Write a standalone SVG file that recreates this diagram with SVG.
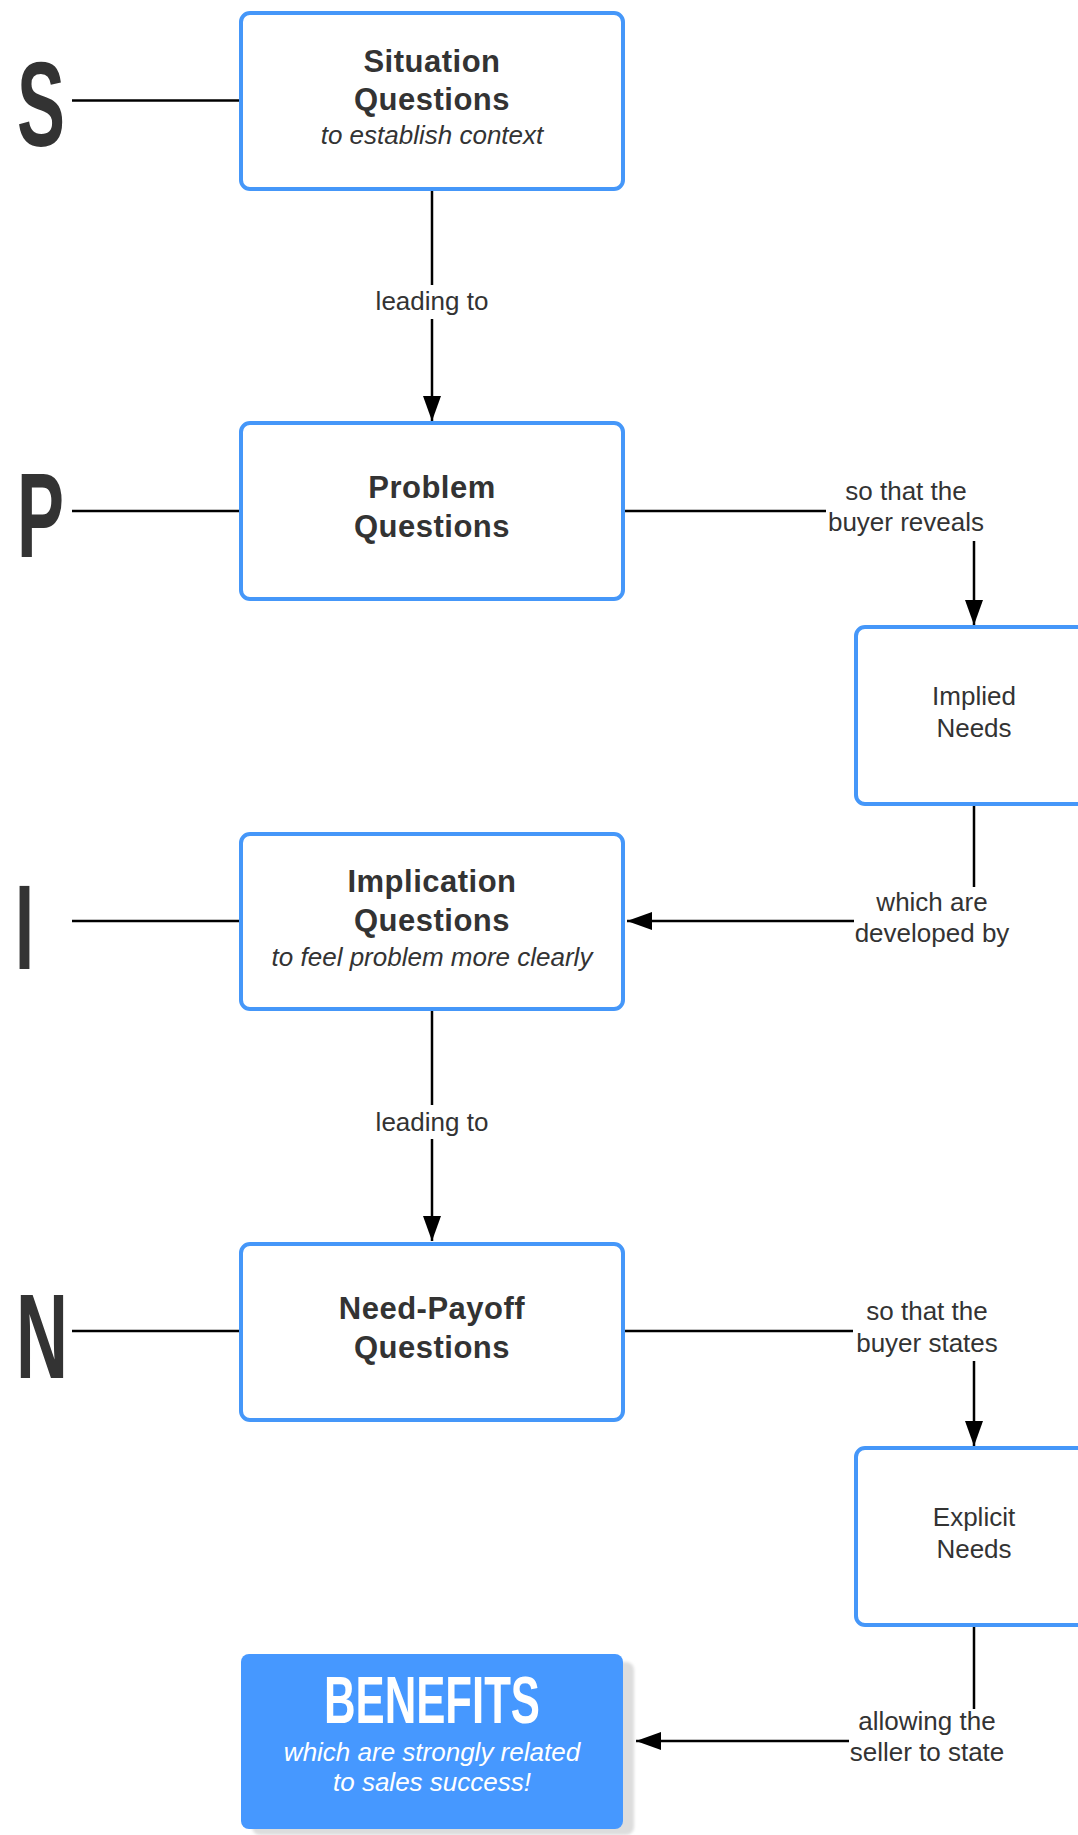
<svg xmlns="http://www.w3.org/2000/svg" width="1078" height="1835" viewBox="0 0 1078 1835">
<style>
.box{fill:#fff;stroke:#4597F9;stroke-width:4}
.title{font-family:"Liberation Sans",Arial,sans-serif;font-weight:bold;font-size:31px;letter-spacing:0.5px;fill:#333;text-anchor:middle}
.sub{font-family:"Liberation Sans",Arial,sans-serif;font-style:italic;font-size:26px;fill:#333;text-anchor:middle}
.txt{font-family:"Liberation Sans",Arial,sans-serif;font-size:26px;fill:#333;text-anchor:middle}
.big{font-family:"Liberation Sans",Arial,sans-serif;font-weight:bold;font-size:120px;fill:#333}
.conn{fill:none;stroke:#000;stroke-width:2.5}
.lbl{fill:#fff}
</style>
<defs>
<marker id="arr" markerUnits="userSpaceOnUse" markerWidth="26" markerHeight="18" refX="25" refY="9" orient="auto">
<path d="M0,0 L25,9 L0,18 z" fill="#000"/>
</marker>
<filter id="sh" x="-10%" y="-10%" width="120%" height="120%"><feGaussianBlur stdDeviation="1.5"/></filter>
</defs>
<rect width="1078" height="1835" fill="#fff"/>

<g id="connectors">
<line class="conn" x1="72" y1="100.5" x2="241" y2="100.5"/>
<line class="conn" x1="72" y1="511" x2="241" y2="511"/>
<line class="conn" x1="72" y1="921" x2="241" y2="921"/>
<line class="conn" x1="72" y1="1331" x2="241" y2="1331"/>
<path class="conn" d="M432,189 V421" marker-end="url(#arr)"/>
<path class="conn" d="M623,511 H974 V625" marker-end="url(#arr)"/>
<path class="conn" d="M974,804 V921 H627" marker-end="url(#arr)"/>
<path class="conn" d="M432,1009 V1241" marker-end="url(#arr)"/>
<path class="conn" d="M623,1331 H974 V1446" marker-end="url(#arr)"/>
<path class="conn" d="M974,1625 V1741 H636" marker-end="url(#arr)"/>
<rect class="lbl" x="370" y="285" width="124" height="34"/>
<text class="txt" x="432" y="310">leading to</text>
<rect class="lbl" x="826" y="478" width="162" height="63"/>
<text class="txt" x="906" y="500">so that the</text>
<text class="txt" x="906" y="531">buyer reveals</text>
<rect class="lbl" x="854" y="887" width="158" height="62"/>
<text class="txt" x="932" y="911">which are</text>
<text class="txt" x="932" y="942">developed by</text>
<rect class="lbl" x="370" y="1105" width="124" height="34"/>
<text class="txt" x="432" y="1131">leading to</text>
<rect class="lbl" x="853" y="1297" width="148" height="64"/>
<text class="txt" x="927" y="1320">so that the</text>
<text class="txt" x="927" y="1352">buyer states</text>
<rect class="lbl" x="849" y="1709" width="158" height="60"/>
<text class="txt" x="927" y="1730">allowing the</text>
<text class="txt" x="927" y="1761">seller to state</text>
</g>

<g id="letter-s"><text class="big" x="17" y="146" textLength="48" lengthAdjust="spacingAndGlyphs">S</text></g>
<g id="letter-p"><text class="big" x="17" y="557" textLength="47" lengthAdjust="spacingAndGlyphs">P</text></g>
<g id="letter-i"><text class="big" x="15" y="969" textLength="19" lengthAdjust="spacingAndGlyphs">I</text></g>
<g id="letter-n"><text class="big" x="16" y="1378" textLength="52" lengthAdjust="spacingAndGlyphs">N</text></g>

<g id="situation">
<rect class="box" x="241" y="13" width="382" height="176" rx="9"/>
<text class="title" x="432" y="72">Situation</text>
<text class="title" x="432" y="110">Questions</text>
<text class="sub" x="432" y="144">to establish context</text>
</g>
<g id="problem">
<rect class="box" x="241" y="423" width="382" height="176" rx="9"/>
<text class="title" x="432" y="498">Problem</text>
<text class="title" x="432" y="537">Questions</text>
</g>
<g id="implied">
<rect class="box" x="856" y="627" width="240" height="177" rx="9"/>
<text class="txt" x="974" y="705">Implied</text>
<text class="txt" x="974" y="737">Needs</text>
</g>
<g id="implication">
<rect class="box" x="241" y="834" width="382" height="175" rx="9"/>
<text class="title" x="432" y="892">Implication</text>
<text class="title" x="432" y="931">Questions</text>
<text class="sub" x="432" y="966">to feel problem more clearly</text>
</g>
<g id="needpayoff">
<rect class="box" x="241" y="1244" width="382" height="176" rx="9"/>
<text class="title" x="432" y="1319">Need-Payoff</text>
<text class="title" x="432" y="1358">Questions</text>
</g>
<g id="explicit">
<rect class="box" x="856" y="1448" width="240" height="177" rx="9"/>
<text class="txt" x="974" y="1526">Explicit</text>
<text class="txt" x="974" y="1558">Needs</text>
</g>
<g id="benefits">
<rect x="252" y="1662" width="382" height="173" rx="8" fill="#ddd" filter="url(#sh)"/>
<rect x="241" y="1654" width="382" height="175" rx="8" fill="#4698FF"/>
<text x="432" y="1723" font-family="Liberation Sans,Arial,sans-serif" font-weight="bold" font-size="66" fill="#fff" text-anchor="middle" textLength="216" lengthAdjust="spacingAndGlyphs">BENEFITS</text>
<text class="sub" x="432" y="1761" style="fill:#fff">which are strongly related</text>
<text class="sub" x="432" y="1791" style="fill:#fff">to sales success!</text>
</g>
</svg>
